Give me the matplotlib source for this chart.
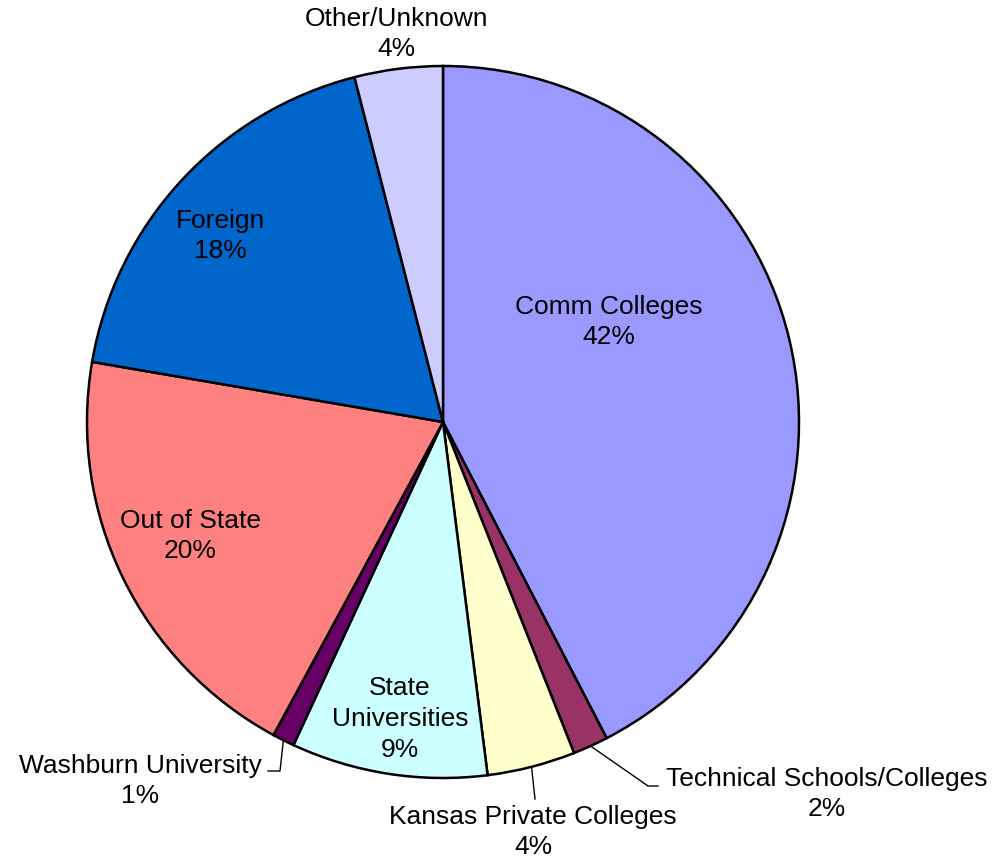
import numpy as np
import matplotlib
matplotlib.use('Agg')
import matplotlib.pyplot as plt

# Datos (porcentaje aproximado)
categorias = ['Comm Colleges', 'Technical Schools/Colleges', 'Kansas Private Colleges',
              'State\nUniversities', 'Washburn University', 'Out of State', 'Foreign',
              'Other/Unknown']
valores = [42.4, 1.6, 4.0, 8.9, 1.0, 19.8, 18.3, 4.0]
colores = ['#9999FF', '#993366', '#FFFFCC', '#CCFFFF', '#660066', '#FF8080', '#0066CC', '#CCCCFF']

plt.rcParams['font.family'] = ['Liberation Sans', 'DejaVu Sans']

W, H = 998, 862
fig = plt.figure(figsize=(W / 100, H / 100), dpi=100)
ax = fig.add_axes([0, 0, 1, 1])

cx, cy, r = 443, H - 423, 356
wedges, _ = ax.pie(valores, colors=colores, startangle=90, counterclock=False,
                   radius=r, center=(cx, cy), frame=True,
                   wedgeprops=dict(edgecolor='black', linewidth=1.8))
ax.set_xlim(0, W)
ax.set_ylim(0, H)
ax.set_aspect('equal')
ax.axis('off')

total = sum(valores)
etiquetas = [f'{c}\n{v / total * 100:.0f}%' for c, v in zip(categorias, valores)]

# posiciones de las etiquetas (pixeles, desde arriba)
pos_texto = [(609, 322), (827, 794), (533, 832), (400, 719),
             (140, 781), (190, 536), (220, 236), (396, 34)]
# codo de las lineas guia (None = sin linea)
codos = [None, [(648, 787), (658, 787)], [(535, 800)], None,
         [(280, 772), (268, 772)], None, None, None]

for w, txt, (px, py), codo in zip(wedges, etiquetas, pos_texto, codos):
    ax.text(px, H - py, txt, ha='center', va='center', fontsize=19,
            linespacing=1.36, color='black')
    if codo is not None:
        ang = np.deg2rad((w.theta1 + w.theta2) / 2)
        x0, y0 = cx + r * np.cos(ang), cy + r * np.sin(ang)
        xs = [x0] + [p[0] for p in codo]
        ys = [y0] + [H - p[1] for p in codo]
        ax.plot(xs, ys, color='black', linewidth=1.0)

fig.savefig('out.png', dpi=100, facecolor='white')
